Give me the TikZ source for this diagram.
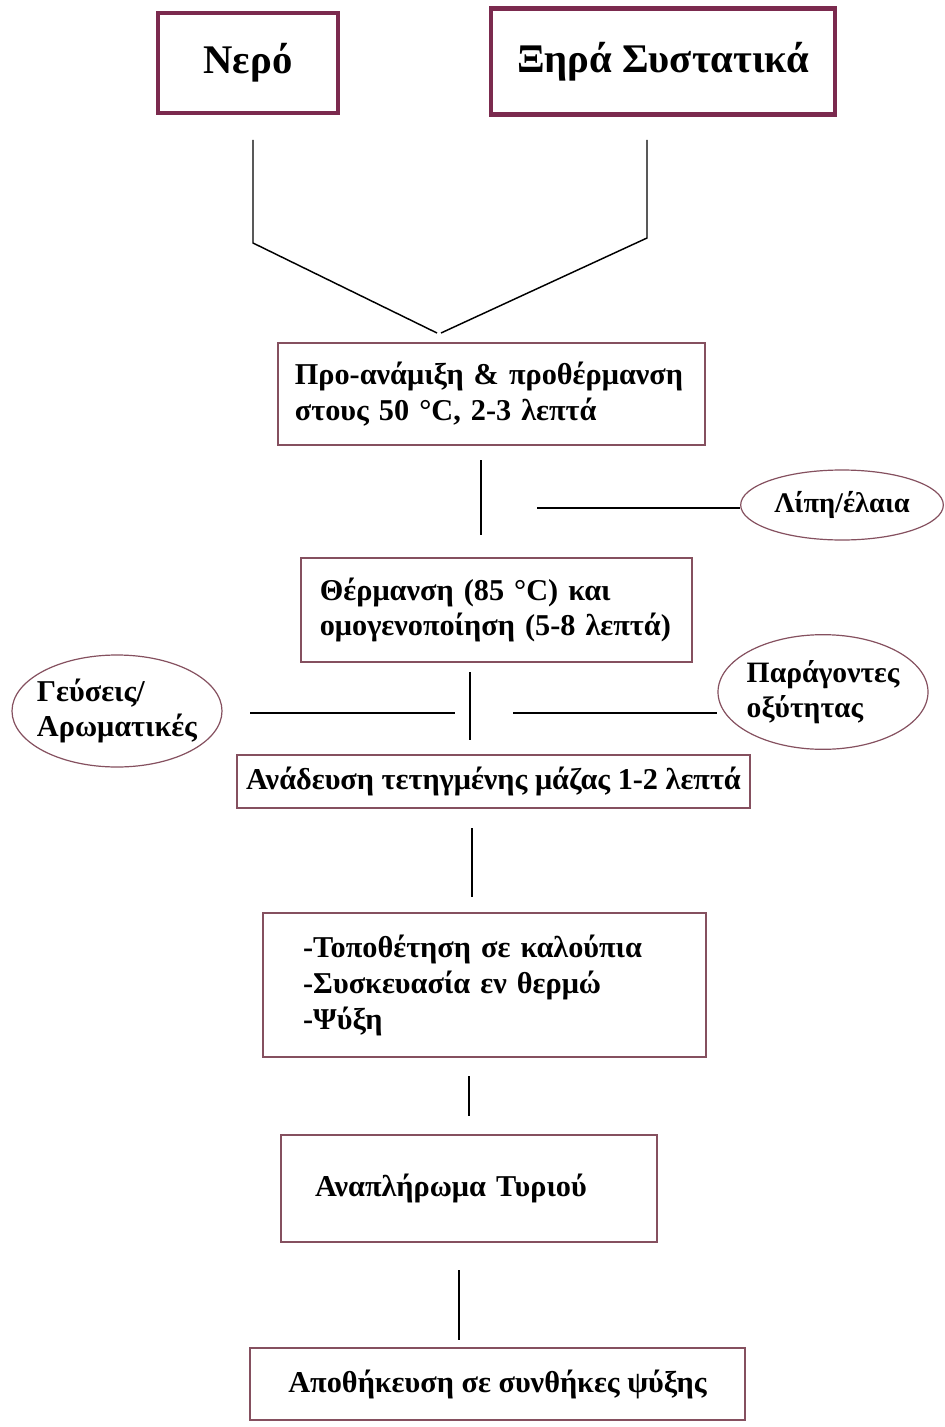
\documentclass[tikz,border=0pt]{standalone}
\usepackage{fontspec}
\setmainfont{Liberation Serif}
\usetikzlibrary{shapes.geometric}
\definecolor{vyssini}{HTML}{7B2A4E}
\definecolor{perigramma}{HTML}{85505F}

\begin{document}
\begin{tikzpicture}[x=0.75pt,y=-0.75pt,
   kefali/.style={draw=vyssini,line width=3.6pt,inner sep=0pt,font=\fontsize{30.5}{34}\selectfont\bfseries},
   stadio/.style={draw=perigramma,line width=1.1pt,inner sep=0pt,align=left,font=\fontsize{22.7}{26.8}\selectfont\bfseries},
   prosthiki/.style={ellipse,draw=perigramma,line width=0.9pt,inner sep=-5pt,align=left,font=\fontsize{22.7}{26.5}\selectfont\bfseries},
   grammi/.style={black,line width=1.1pt}]

  \useasboundingbox[fill=white] (0,0) rectangle (945,1427);

  % --- prwtes yles ---
  \node[kefali,minimum width=135pt,minimum height=75pt] (nero) at (248,63) {Νερό};
  \node[kefali,minimum width=258pt,minimum height=80pt] (ksira) at (663,61.5) {Ξηρά Συστατικά};

  \coordinate (nero-a) at (253,140);
  \coordinate (nero-k) at (253,243);
  \coordinate (ksira-a) at (647,140);
  \coordinate (ksira-k) at (647,238);
  \coordinate (enwsi-a) at (437,333);
  \coordinate (enwsi-d) at (441,333);
  \draw[grammi] (nero-a) -- (nero-k) -- (enwsi-a);
  \draw[grammi] (ksira-a) -- (ksira-k) -- (enwsi-d);

  % --- proanamiksi ---
  \node[stadio,minimum width=320pt,minimum height=76.5pt,text width=295pt] (mix) at (491.5,394)
    {Προ-ανάμιξη \& προθέρμανση\\στους 50 °C, 2-3 λεπτά};

  \coordinate (v1-a) at (481,460);
  \coordinate (v1-k) at (481,535);
  \draw[grammi] (v1-a) -- (v1-k);

  \node[prosthiki,minimum width=152pt,minimum height=52.5pt,font=\fontsize{21.3}{26}\selectfont\bfseries] (lipi) at (842,505) {Λίπη/έλαια};
  \coordinate (h1) at (537,508);
  \draw[grammi] (h1) -- (h1 -| lipi.west);

  % --- thermansi ---
  \node[stadio,minimum width=293pt,minimum height=78pt,text width=265pt] (therm) at (496.5,610)
    {Θέρμανση (85 °C) και\\ομογενοποίηση (5-8 λεπτά)};

  \coordinate (v2-a) at (470,672);
  \coordinate (v2-k) at (470,740);
  \draw[grammi] (v2-a) -- (v2-k);

  \node[prosthiki,minimum width=157.5pt,minimum height=84pt] (gefseis) at (117,711) {Γεύσεις/\\Αρωματικές};
  \node[prosthiki,minimum width=157.5pt,minimum height=86pt,font=\fontsize{22.2}{26.5}\selectfont\bfseries] (oxyt) at (823,692) {Παράγοντες\\οξύτητας};

  \coordinate (hl-a) at (250,713);
  \coordinate (hl-k) at (455,713);
  \coordinate (hr) at (513,713);
  \draw[grammi] (hl-a) -- (hl-k);
  \draw[grammi] (hr) -- (hr -| oxyt.west);

  % --- anadeusi ---
  \node[stadio,minimum width=385pt,minimum height=40pt,align=center] (anad) at (493.5,781.5)
    {Ανάδευση τετηγμένης μάζας 1-2 λεπτά};

  \coordinate (v3-a) at (472,828);
  \coordinate (v3-k) at (472,897);
  \draw[grammi] (v3-a) -- (v3-k);

  % --- kaloupia ---
  \node[stadio,minimum width=332pt,minimum height=108pt,text width=272pt,
        font=\fontsize{22.7}{27}\selectfont\bfseries] (kalou) at (484.5,985)
    {-Τοποθέτηση σε καλούπια\\-Συσκευασία εν θερμώ\\-Ψύξη};

  \coordinate (v4-a) at (469,1076);
  \coordinate (v4-k) at (469,1116);
  \draw[grammi] (v4-a) -- (v4-k);

  % --- anaplirwma ---
  \node[stadio,minimum width=282pt,minimum height=80pt,text width=231pt] (tyri) at (469,1188.5)
    {Αναπλήρωμα Τυριού};

  \coordinate (v5-a) at (459,1270);
  \coordinate (v5-k) at (459,1340);
  \draw[grammi] (v5-a) -- (v5-k);

  % --- apothikeusi ---
  \node[stadio,minimum width=371pt,minimum height=54pt,align=center] (apoth) at (497.5,1384)
    {Αποθήκευση σε συνθήκες ψύξης};
\end{tikzpicture}
\end{document}
